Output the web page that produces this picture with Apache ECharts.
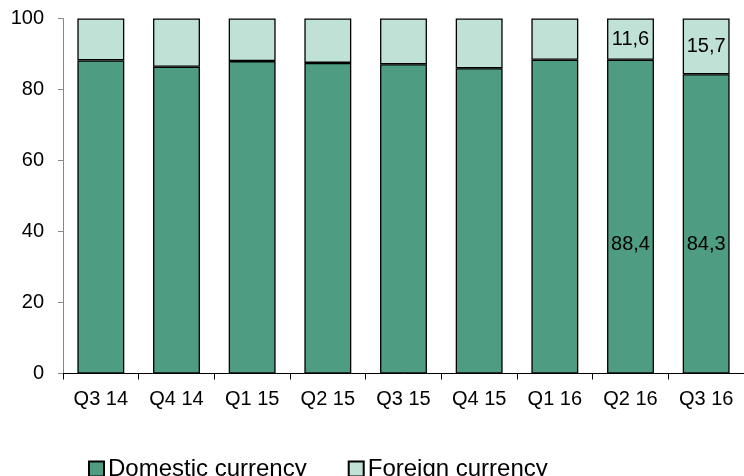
<!DOCTYPE html>
<html><head><meta charset="utf-8">
<script src="https://cdn.jsdelivr.net/npm/echarts@6/dist/echarts.min.js"></script>
<style>html,body{margin:0;padding:0;background:#fff}#c{width:744px;height:476px}</style>
</head><body><div id="c"></div>
<script>
const categories = ['Q3 14','Q4 14','Q1 15','Q2 15','Q3 15','Q4 15','Q1 16','Q2 16','Q3 16'];
const domestic = [88.2, 86.4, 88.0, 87.5, 87.1, 86.0, 88.4, 88.4, 84.3];
const foreign = [11.8, 13.6, 12.0, 12.5, 12.9, 14.0, 11.6, 11.6, 15.7];
const labeledIdx = [7, 8];
const yTicks = [0, 20, 40, 60, 80, 100];

const fmt = v => String(v.toFixed(1)).replace('.', ',');
const font = "'Liberation Sans', Arial, sans-serif";
function mk(arr) {
  return arr.map((v, i) => ({ value: v, label: { show: labeledIdx.includes(i) } }));
}
const chart = echarts.init(document.getElementById('c'));
chart.setOption({
  animation: false,
  grid: { left: 63, top: 18.5, width: 683, height: 355 },
  xAxis: {
    type: 'category', data: categories,
    axisLine: { lineStyle: { color: '#000', width: 1 } },
    axisTick: { show: true, alignWithLabel: false, length: 6, lineStyle: { color: '#000' } },
    axisLabel: { color: '#000', fontSize: 20, fontFamily: font, margin: 16 }
  },
  yAxis: {
    type: 'value', min: yTicks[0], max: yTicks[yTicks.length - 1], interval: 20,
    splitLine: { show: false },
    axisLine: { show: true, lineStyle: { color: '#888' } },
    axisTick: { show: true, length: 5, lineStyle: { color: '#888' } },
    axisLabel: { color: '#000', fontSize: 20, fontFamily: font, margin: 19 }
  },
  legend: {
    left: 88, top: 457, padding: 0, itemWidth: 15, itemHeight: 15, itemGap: 41,
    icon: 'rect',
    textStyle: { color: '#000', fontSize: 24, fontFamily: font, padding: [0, 0, 0, -1] },
    data: ['Domestic currency', 'Foreign currency']
  },
  series: [
    {
      name: 'Domestic currency', type: 'bar', stack: 's', barWidth: '62%',
      data: mk(domestic),
      itemStyle: { color: '#4E9C82', borderColor: '#000', borderWidth: 1.3 },
      label: { position: 'insideBottom', distance: 119, color: '#000', fontSize: 20, fontFamily: font, formatter: p => fmt(p.value) }
    },
    {
      name: 'Foreign currency', type: 'bar', stack: 's', barWidth: '62%',
      data: mk(foreign),
      itemStyle: { color: '#C0E2D6', borderColor: '#000', borderWidth: 1.3 },
      label: { position: 'inside', color: '#000', fontSize: 20, fontFamily: font, formatter: p => fmt(p.value) }
    }
  ]
});
</script></body></html>
